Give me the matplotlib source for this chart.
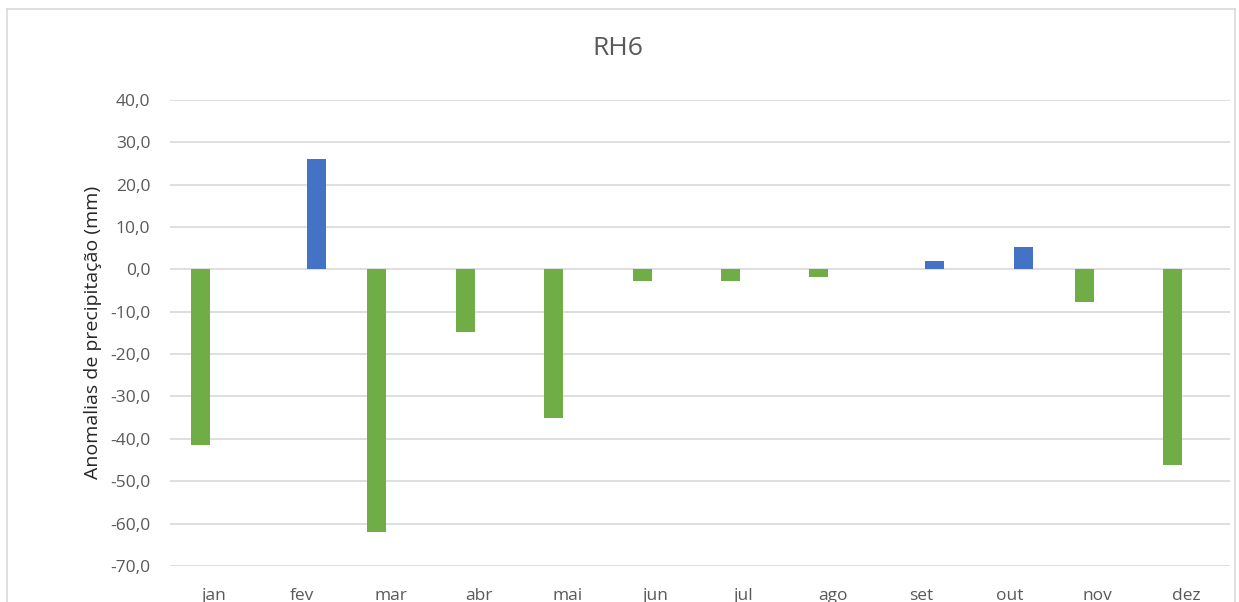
import numpy as np
import matplotlib.pyplot as plt
from matplotlib.lines import Line2D

meses = ["jan", "fev", "mar", "abr", "mai", "jun", "jul", "ago", "set", "out", "nov", "dez"]
anomalias = [-41.4, 26.1, -62.0, -14.7, -35.0, -2.8, -2.8, -1.8, 2.0, 5.2, -7.7, -46.3]
yticks = [40, 30, 20, 10, 0, -10, -20, -30, -40, -50, -60, -70]

plt.rcParams["font.family"] = ["Open Sans", "DejaVu Sans"]

vals = np.array(anomalias)
negativas = np.where(vals < 0, vals, 0.0)
positivas = np.where(vals > 0, vals, 0.0)
x = np.arange(len(meses))

fig = plt.figure(figsize=(12.39, 6.02), dpi=100)
ax = fig.add_axes([0.137, 0.060, 0.856, 0.774])

w = 0.215
ax.bar(x - 0.155, negativas, width=w, color="#70AD47", zorder=3)
ax.bar(x + 0.155, positivas, width=w, color="#4472C4", zorder=3)

ax.set_xlim(-0.5, len(meses) - 0.5)
ax.set_ylim(-70, 40)
ax.set_yticks(yticks)
ax.set_yticklabels([f"{v:.1f}".replace(".", ",") for v in yticks])
ax.set_xticks(x)
ax.set_xticklabels(meses)
ax.grid(axis="y", color="#d9d9d9", linewidth=1.2, zorder=0)
for s in ax.spines.values():
    s.set_visible(False)
ax.tick_params(axis="both", length=0, labelsize=12.5, labelcolor="#595959")
ax.tick_params(axis="y", pad=14)
ax.tick_params(axis="x", pad=16)

ax.set_ylabel("Anomalias de precipitação (mm)", fontsize=14, color="#262626", labelpad=6)
fig.text(0.499, 0.920, "RH6", ha="center", va="center", fontsize=19, color="#595959")

# moldura do gráfico
for xs, ys in [([0.006, 0.006], [0.0, 0.985]), ([0.006, 0.997], [0.985, 0.985]), ([0.997, 0.997], [0.985, 0.0])]:
    fig.add_artist(Line2D(xs, ys, color="#d9d9d9", linewidth=1.2, transform=fig.transFigure))

fig.savefig("out.png", dpi=100)
